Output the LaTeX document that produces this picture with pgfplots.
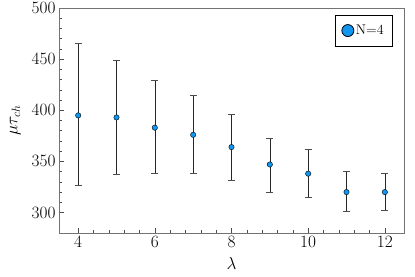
\documentclass[border=0pt]{standalone}
\usepackage{pgfplots}
\pgfplotsset{compat=1.18}
\definecolor{ptblue}{RGB}{16,150,240}
\begin{document}
\begin{tikzpicture}
\begin{axis}[
  name=main,
  scale only axis,
  width=345pt, height=225pt,
  xmin=3.5, xmax=12.5, ymin=280, ymax=500,
  xtick={4,6,8,10,12}, ytick={300,350,400,450,500},
  minor x tick num=4, minor y tick num=4,
  tick pos=left,
  tick align=inside,
  major tick length=5pt, minor tick length=3pt,
  every tick/.style={black!70, line width=0.5pt},
  axis line style={black!55, line width=0.8pt},
  tick label style={font=\fontsize{16}{18}\selectfont},
  xlabel={$\lambda$}, ylabel={$\mu\tau_{ch}$},
  label style={font=\fontsize{17}{19}\selectfont},
  xlabel style={yshift=-3pt},
  ylabel style={yshift=4pt},
  legend style={at={(0.968,0.97)}, anchor=north east, draw=black, line width=0.6pt,
    font=\fontsize{14}{16}\selectfont, inner xsep=7pt, inner ysep=8pt},
  legend cell align=left,
  legend image code/.code={\draw[mark=*, mark size=6pt, mark options={fill=ptblue, draw=black, line width=0.8pt}] plot coordinates {(0.2cm,0cm)};},
]
\addplot[only marks, mark=*, mark size=2.7pt, mark options={fill=ptblue, draw=black, line width=0.4pt},
  error bars/.cd, y dir=both, y explicit,
  error bar style={black!85, line width=0.6pt},
  error mark options={rotate=90, mark size=3.5pt, black!70, line width=0.6pt}]
  table[x=x, y=y, y error plus=ep, y error minus=em] {
x y ep em
4 395 70 68
5 393 56 56
6 383 46 45
7 376 39 38
8 364 32 32
9 347 26 27
10 338 24 23
11 320 20 19
12 320 18 18
};
\addlegendentry{N=4}
\end{axis}
\pgfresetboundingbox
\useasboundingbox ([shift={(-59pt,-44pt)}]main.south west) rectangle ([shift={(11pt,8pt)}]main.north east);
\end{tikzpicture}
\end{document}
